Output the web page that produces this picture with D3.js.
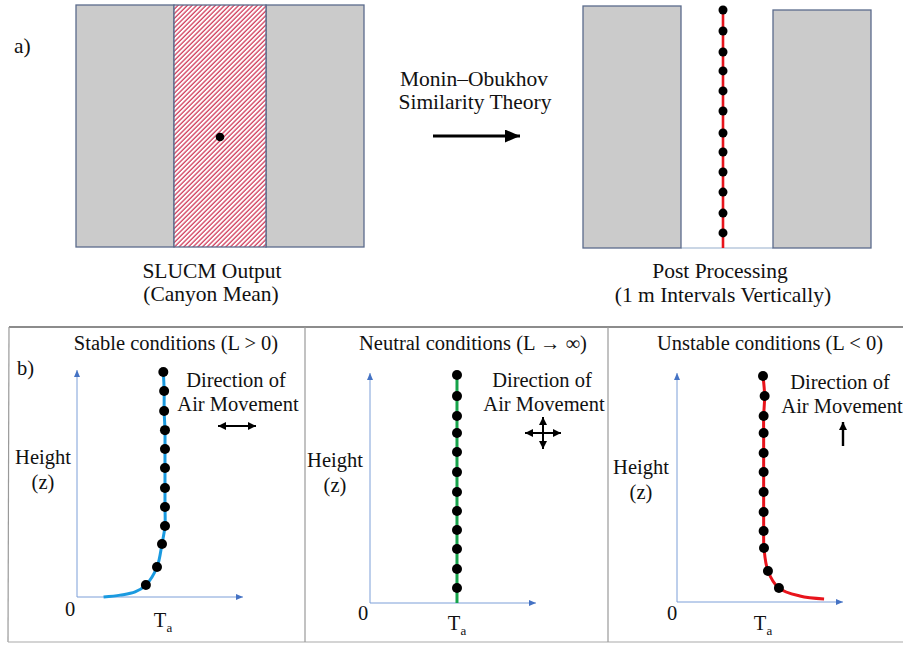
<!DOCTYPE html>
<html>
<head>
<meta charset="utf-8">
<script src="https://cdn.jsdelivr.net/npm/d3@7"></script>
<style>
  html, body { margin: 0; padding: 0; background: #fff; }
  svg { display: block; }
  text { font-family: "Liberation Serif", "Times New Roman", serif; fill: #111; }
</style>
</head>
<body>
<svg id="fig" width="903" height="645"></svg>
<script>
// ---- Profile data (height z in metres above ground, air temperature Ta in relative units) ----
const panelTitles = ["Stable conditions (L > 0)", "Neutral conditions (L \u2192 \u221E)", "Unstable conditions (L < 0)"];

// Post-processed points at 1 m vertical intervals inside the canyon
const postZ = [0.76, 1.76, 2.82, 3.83, 4.84, 5.8, 6.91, 7.92, 8.93, 9.88, 10.94, 12];

// Stable profile: dots and the near-surface tail of the curve
const stableZ  = [0.64, 1.6, 2.83, 3.79, 4.8, 5.81, 6.88, 7.89, 8.9, 9.92, 10.99, 12];
const stableTa = [4.15, 4.82, 5.12, 5.3, 5.3, 5.3, 5.3, 5.3, 5.3, 5.25, 5.25, 5.2];
const stableTailZ  = [0, 0.1, 0.27];
const stableTailTa = [1.6, 2.6, 3.5];

// Neutral profile
const neutralZ  = [0.79, 1.79, 2.84, 3.84, 4.84, 5.84, 6.89, 7.95, 8.95, 9.84, 10.89, 12];
const neutralTa = [5.24, 5.24, 5.24, 5.24, 5.24, 5.24, 5.24, 5.24, 5.24, 5.24, 5.24, 5.24];
const neutralTailZ  = [0];
const neutralTailTa = [5.24];

// Unstable profile
const unstableZ  = [0.74, 1.65, 2.87, 3.77, 4.78, 5.84, 6.9, 7.91, 8.97, 9.88, 10.94, 12];
const unstableTa = [6.14, 5.48, 5.24, 5.22, 5.22, 5.22, 5.22, 5.22, 5.22, 5.22, 5.28, 5.18];
const unstableTailZ  = [0.16, 0.32];
const unstableTailTa = [8.86, 7.4];

const svg = d3.select("#fig");
const defs = svg.append("defs");

const fsA = "21.5px";   // panel a labels
const fsB = "20.5px";   // panel b labels

// Diagonal hatch for the canyon-mean cell
const hs = 3.3;
defs.append("pattern")
  .attr("id", "hatch")
  .attr("patternUnits", "userSpaceOnUse")
  .attr("width", hs).attr("height", hs)
  .attr("patternTransform", "rotate(45)")
  .call(p => {
    p.append("rect").attr("width", hs).attr("height", hs).attr("fill", "#fff");
    p.append("line").attr("x1", 1).attr("y1", 0).attr("x2", 1).attr("y2", hs)
      .attr("stroke", "#d2405f").attr("stroke-width", 1.35);
  });

// Arrowheads
function marker(id, color, w, h) {
  defs.append("marker")
    .attr("id", id)
    .attr("viewBox", `0 0 ${w} ${h}`)
    .attr("refX", w).attr("refY", h / 2)
    .attr("markerWidth", w).attr("markerHeight", h)
    .attr("markerUnits", "userSpaceOnUse")
    .attr("orient", "auto-start-reverse")
    .append("path")
    .attr("d", `M0,0L${w},${h / 2}L0,${h}Z`)
    .attr("fill", color);
}
marker("axisHead", "#4472c4", 7, 6);
marker("bigHead", "#000", 15, 13);
marker("smallHead", "#000", 8, 8);

const buildingFill = "#cbcbcb";
const buildingStroke = "#5b6b8c";

// ---------------- Panel a ----------------
svg.append("text").attr("x", 14).attr("y", 45).attr("dy", "0.35em")
  .style("font-size", fsA).text("a)");

// SLUCM street canyon (two buildings with the hatched canyon between)
const ga = svg.append("g");
ga.append("rect").attr("x", 76).attr("y", 5).attr("width", 98).attr("height", 242)
  .attr("fill", buildingFill).attr("stroke", buildingStroke).attr("stroke-width", 1.3);
ga.append("rect").attr("x", 266).attr("y", 5).attr("width", 98).attr("height", 242)
  .attr("fill", buildingFill).attr("stroke", buildingStroke).attr("stroke-width", 1.3);
ga.append("rect").attr("x", 174).attr("y", 5).attr("width", 92).attr("height", 242)
  .attr("fill", "url(#hatch)").attr("stroke", buildingStroke).attr("stroke-width", 1.3);
ga.append("circle").attr("cx", 220).attr("cy", 137).attr("r", 4.3).attr("fill", "#000");

svg.append("text").attr("x", 212).attr("y", 270).attr("dy", "0.35em")
  .attr("text-anchor", "middle").style("font-size", fsA).text("SLUCM Output");
svg.append("text").attr("x", 211).attr("y", 293).attr("dy", "0.35em")
  .attr("text-anchor", "middle").style("font-size", fsA).text("(Canyon Mean)");

svg.append("text").attr("x", 474).attr("y", 78).attr("dy", "0.35em")
  .attr("text-anchor", "middle").style("font-size", fsA).text("Monin\u2013Obukhov");
svg.append("text").attr("x", 475).attr("y", 101).attr("dy", "0.35em")
  .attr("text-anchor", "middle").style("font-size", fsA).text("Similarity Theory");
svg.append("line").attr("x1", 433).attr("y1", 136).attr("x2", 520).attr("y2", 136)
  .attr("stroke", "#000").attr("stroke-width", 3).attr("marker-end", "url(#bigHead)");

// Post-processed canyon
const gp = svg.append("g");
gp.append("line").attr("x1", 681).attr("y1", 248).attr("x2", 773).attr("y2", 248)
  .attr("stroke", "#b8c8dc").attr("stroke-width", 1.5);
gp.append("rect").attr("x", 583).attr("y", 6).attr("width", 98).attr("height", 242)
  .attr("fill", buildingFill).attr("stroke", buildingStroke).attr("stroke-width", 1.3);
gp.append("rect").attr("x", 773).attr("y", 10).attr("width", 98).attr("height", 238)
  .attr("fill", buildingFill).attr("stroke", buildingStroke).attr("stroke-width", 1.3);

const postY = d3.scaleLinear().domain([0, 12]).range([248, 10]);
const postX = 723;
gp.append("line").attr("x1", postX).attr("x2", postX)
  .attr("y1", postY(0)).attr("y2", postY(12))
  .attr("stroke", "#e8141c").attr("stroke-width", 2.6);
gp.selectAll("circle.post").data(postZ).join("circle")
  .attr("class", "post")
  .attr("cx", postX).attr("cy", d => postY(d)).attr("r", 4.5).attr("fill", "#000");

svg.append("text").attr("x", 720).attr("y", 270).attr("dy", "0.35em")
  .attr("text-anchor", "middle").style("font-size", fsA).text("Post Processing");
svg.append("text").attr("x", 723).attr("y", 294).attr("dy", "0.35em")
  .attr("text-anchor", "middle").style("font-size", fsA).text("(1 m Intervals Vertically)");

// ---------------- Panel b ----------------
const frame = svg.append("g");
frame.append("line").attr("x1", 9).attr("y1", 327).attr("x2", 903).attr("y2", 327)
  .attr("stroke", "#666").attr("stroke-width", 1.3);
frame.append("line").attr("x1", 9).attr("y1", 327).attr("x2", 8).attr("y2", 642)
  .attr("stroke", "#999").attr("stroke-width", 1.2);
frame.append("line").attr("x1", 8).attr("y1", 642).attr("x2", 903).attr("y2", 642)
  .attr("stroke", "#aaa").attr("stroke-width", 1.2);
[305, 608].forEach(x => frame.append("line").attr("x1", x).attr("x2", x)
  .attr("y1", 327).attr("y2", 642).attr("stroke", "#999").attr("stroke-width", 1.2));

svg.append("text").attr("x", 17).attr("y", 368).attr("dy", "0.35em")
  .style("font-size", fsB).text("b)");

const panels = [
  { title: panelTitles[0], titleX: 176, x0: 77, y0: 597, xEnd: 243, yEnd: 370, yTop: 372,
    z: stableZ, ta: stableTa, tailZ: stableTailZ, tailTa: stableTailTa, color: "#1a9ae0",
    heightX: 43, heightY: 457, zeroX: 70, zeroY: 609, taX: 163, taY: 620,
    dirX: 236, dirY: 380, move: "horizontal", moveX: 237, moveY: 426 },
  { title: panelTitles[1], titleX: 473, x0: 370, y0: 603, xEnd: 536, yEnd: 373, yTop: 375,
    z: neutralZ, ta: neutralTa, tailZ: neutralTailZ, tailTa: neutralTailTa, color: "#16a34a",
    heightX: 335, heightY: 460, zeroX: 363, zeroY: 613, taX: 457, taY: 623,
    dirX: 542, dirY: 380, move: "cross", moveX: 543, moveY: 433 },
  { title: panelTitles[2], titleX: 770, x0: 677, y0: 602, xEnd: 843, yEnd: 373, yTop: 376,
    z: unstableZ, ta: unstableTa, tailZ: unstableTailZ, tailTa: unstableTailTa, color: "#e8141c",
    heightX: 641, heightY: 467, zeroX: 672, zeroY: 613, taX: 763, taY: 623,
    dirX: 840, dirY: 382, move: "up", moveX: 843, moveY: 434 }
];

panels.forEach(p => {
  const g = svg.append("g");
  const x = d3.scaleLinear().domain([0, 10]).range([p.x0, p.xEnd]);
  const y = d3.scaleLinear().domain([0, 12]).range([p.y0, p.yTop]);

  g.append("text").attr("x", p.titleX).attr("y", 343).attr("dy", "0.35em")
    .attr("text-anchor", "middle").style("font-size", fsB).text(p.title);

  // axes with arrowheads
  g.append("line").attr("x1", x(0)).attr("y1", y(0)).attr("x2", x(0)).attr("y2", p.yEnd)
    .attr("stroke", "#7d9fd8").attr("stroke-width", 1).attr("marker-end", "url(#axisHead)");
  g.append("line").attr("x1", x(0)).attr("y1", y(0)).attr("x2", x(10)).attr("y2", y(0))
    .attr("stroke", "#7d9fd8").attr("stroke-width", 1).attr("marker-end", "url(#axisHead)");

  g.append("text").attr("x", p.heightX).attr("y", p.heightY).attr("dy", "0.35em")
    .attr("text-anchor", "middle").style("font-size", fsB).text("Height");
  g.append("text").attr("x", p.heightX).attr("y", p.heightY + 25).attr("dy", "0.35em")
    .attr("text-anchor", "middle").style("font-size", fsB).text("(z)");
  g.append("text").attr("x", p.zeroX).attr("y", p.zeroY).attr("dy", "0.35em")
    .attr("text-anchor", "middle").style("font-size", fsB).text("0");
  const ta = g.append("text").attr("x", p.taX).attr("y", p.taY).attr("dy", "0.35em")
    .attr("text-anchor", "middle").style("font-size", fsB);
  ta.append("tspan").text("T");
  ta.append("tspan").attr("dy", "5").style("font-size", "13px").text("a");

  // profile curve through the tail and the dots
  const pts = p.tailZ.map((z, i) => [p.tailTa[i], z])
    .concat(p.z.map((z, i) => [p.ta[i], z]));
  const line = d3.line().x(d => x(d[0])).y(d => y(d[1]))
    .curve(d3.curveCatmullRom.alpha(0.5));
  g.append("path").attr("d", line(pts)).attr("fill", "none")
    .attr("stroke", p.color).attr("stroke-width", 3);
  g.selectAll("circle.pt").data(p.z.map((z, i) => [p.ta[i], z])).join("circle")
    .attr("class", "pt")
    .attr("cx", d => x(d[0])).attr("cy", d => y(d[1])).attr("r", 5).attr("fill", "#000");

  // direction of air movement
  g.append("text").attr("x", p.dirX).attr("y", p.dirY).attr("dy", "0.35em")
    .attr("text-anchor", "middle").style("font-size", fsB).text("Direction of");
  g.append("text").attr("x", p.dirX + 2).attr("y", p.dirY + 24).attr("dy", "0.35em")
    .attr("text-anchor", "middle").style("font-size", fsB).text("Air Movement");

  const arrow = (x1, y1, x2, y2, both, w) => g.append("line")
    .attr("x1", x1).attr("y1", y1).attr("x2", x2).attr("y2", y2)
    .attr("stroke", "#000").attr("stroke-width", w)
    .attr("marker-end", "url(#smallHead)")
    .attr("marker-start", both ? "url(#smallHead)" : null);
  if (p.move === "horizontal") {
    arrow(p.moveX - 19, p.moveY, p.moveX + 19, p.moveY, true, 2);
  } else if (p.move === "cross") {
    arrow(p.moveX - 18, p.moveY, p.moveX + 18, p.moveY, true, 2);
    arrow(p.moveX, p.moveY - 16, p.moveX, p.moveY + 16, true, 2);
  } else {
    arrow(p.moveX, p.moveY + 12, p.moveX, p.moveY - 12, false, 2.4);
  }
});
</script>
</body>
</html>
